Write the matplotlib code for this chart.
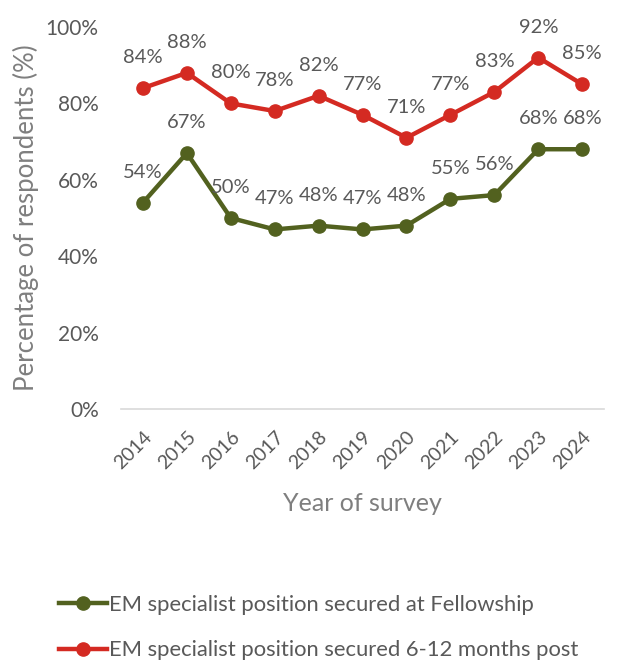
import matplotlib.pyplot as plt
from matplotlib.ticker import FuncFormatter

plt.rcParams["font.family"] = ["Lato", "DejaVu Sans"]

years = ["2014", "2015", "2016", "2017", "2018", "2019", "2020", "2021", "2022", "2023", "2024"]
fellowship = [54, 67, 50, 47, 48, 47, 48, 55, 56, 68, 68]
post = [84, 88, 80, 78, 82, 77, 71, 77, 83, 92, 85]

green = "#52611f"
red = "#d42a22"
text_gray = "#595959"

fig = plt.figure(figsize=(6.4, 6.7), dpi=100)
ax = fig.add_axes([0.189, 0.3896, 0.755, 0.5701])

x = list(range(len(years)))
ax.plot(x, fellowship, color=green, lw=3.2, marker="o", ms=9.5,
        label="EM specialist position secured at Fellowship")
ax.plot(x, post, color=red, lw=3.2, marker="o", ms=9.5,
        label="EM specialist position secured 6-12 months post")

for xi, v in zip(x, fellowship):
    ax.annotate(f"{v}%", (xi, v), xytext=(0, 22), textcoords="offset points",
                ha="center", va="center", fontsize=14.5, color=text_gray)
for xi, v in zip(x, post):
    ax.annotate(f"{v}%", (xi, v), xytext=(0, 22), textcoords="offset points",
                ha="center", va="center", fontsize=14.5, color=text_gray)

ax.set_xlim(-0.5, len(years) - 0.5)
ax.set_ylim(0, 100)
ax.set_yticks(range(0, 101, 20))
ax.yaxis.set_major_formatter(FuncFormatter(lambda v, _: f"{v:.0f}%"))
ax.set_xticks(x)
ax.set_xticklabels(years, rotation=45, ha="right", rotation_mode="anchor")
ax.tick_params(axis="both", length=0, labelcolor=text_gray)
ax.tick_params(axis="y", pad=16, labelsize=15)
ax.tick_params(axis="x", pad=14, labelsize=14)

for side in ["top", "right", "left"]:
    ax.spines[side].set_visible(False)
ax.spines["bottom"].set_color("#d9d9d9")
ax.spines["bottom"].set_linewidth(1.2)

ax.set_ylabel("Percentage of respondents (%)", fontsize=18.5, color="#7f7f7f", labelpad=5)
ax.set_xlabel("Year of survey", fontsize=18, color="#7f7f7f", labelpad=14)

fig.legend(loc="upper left", bbox_to_anchor=(0.078, 0.125), frameon=False,
           fontsize=15.8, labelcolor=text_gray, handlelength=2.2, handletextpad=0.1,
           labelspacing=1.15, borderaxespad=0)

fig.savefig("out.png", dpi=100)
